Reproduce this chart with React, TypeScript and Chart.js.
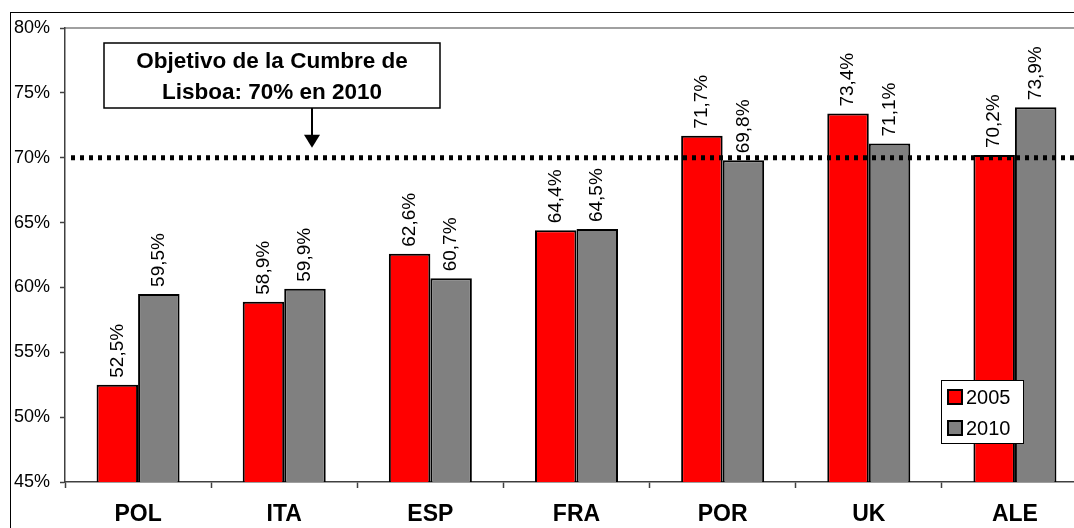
import React, { useEffect, useRef } from "react";
import { Chart, registerables } from "chart.js";

Chart.register(...registerables);

const categories = ["POL", "ITA", "ESP", "FRA", "POR", "UK", "ALE"];
const series2005 = [52.5, 58.9, 62.6, 64.4, 71.7, 73.4, 70.2];
const series2010 = [59.5, 59.9, 60.7, 64.5, 69.8, 71.1, 73.9];
const seriesLabels = ["2005", "2010"];
const yMin = 45;
const yMax = 80;
const yStep = 5;
const targetValue = 70;
const annotationLines = ["Objetivo de la Cumbre de", "Lisboa: 70% en 2010"];

const FONT = '"Liberation Sans", Arial, Helvetica, sans-serif';

const fmt = (v: number) => v.toFixed(1).replace(".", ",") + "%";

const decorPlugin = {
  id: "decor",
  beforeDraw(chart: any) {
    const ctx = chart.ctx;
    ctx.save();
    ctx.fillStyle = "#ffffff";
    ctx.fillRect(0, 0, chart.width, chart.height);
    ctx.strokeStyle = "#000000";
    ctx.lineWidth = 1;
    ctx.strokeRect(10.5, 12.5, chart.width + 50, chart.height + 50);
    const a = chart.chartArea;
    ctx.strokeStyle = "#808080";
    ctx.lineWidth = 1.5;
    ctx.beginPath();
    ctx.moveTo(a.left, a.top);
    ctx.lineTo(a.right, a.top);
    ctx.stroke();
    ctx.restore();
  },
  afterDatasetsDraw(chart: any) {
    const ctx = chart.ctx;
    const a = chart.chartArea;
    const yScale = chart.scales.y;
    const ty = yScale.getPixelForValue(targetValue);
    ctx.save();
    ctx.strokeStyle = "#000000";
    ctx.lineWidth = 5;
    ctx.setLineDash([4, 5]);
    ctx.beginPath();
    ctx.moveTo(a.left + 6, ty);
    ctx.lineTo(a.right, ty);
    ctx.stroke();
    ctx.setLineDash([]);
    ctx.restore();

    ctx.save();
    ctx.fillStyle = "#000000";
    ctx.font = `19px ${FONT}`;
    chart.data.datasets.forEach((ds: any, di: number) => {
      const meta = chart.getDatasetMeta(di);
      meta.data.forEach((el: any, i: number) => {
        ctx.save();
        ctx.translate(el.x, el.y - 7);
        ctx.rotate(-Math.PI / 2);
        ctx.textAlign = "left";
        ctx.textBaseline = "middle";
        ctx.fillText(fmt(ds.data[i]), 0, 0);
        ctx.restore();
      });
    });
    ctx.restore();
  },
  afterDraw(chart: any) {
    const ctx = chart.ctx;
    const yScale = chart.scales.y;
    const ty = yScale.getPixelForValue(targetValue);
    ctx.save();
    const bx = 104, by = 43, bw = 336, bh = 65;
    ctx.fillStyle = "#ffffff";
    ctx.fillRect(bx, by, bw, bh);
    ctx.strokeStyle = "#000000";
    ctx.lineWidth = 1.5;
    ctx.strokeRect(bx, by, bw, bh);
    ctx.fillStyle = "#000000";
    ctx.font = `bold 22.5px ${FONT}`;
    ctx.textAlign = "center";
    ctx.textBaseline = "middle";
    ctx.fillText(annotationLines[0], bx + bw / 2, 62);
    ctx.fillText(annotationLines[1], bx + bw / 2, 93);
    const ax = 312;
    ctx.lineWidth = 2;
    ctx.beginPath();
    ctx.moveTo(ax, by + bh);
    ctx.lineTo(ax, ty - 22);
    ctx.stroke();
    ctx.beginPath();
    ctx.moveTo(ax - 8, ty - 23);
    ctx.lineTo(ax + 8, ty - 23);
    ctx.lineTo(ax, ty - 10);
    ctx.closePath();
    ctx.fill();

    const lx = 941, ly = 380, lw = 82, lh = 63;
    ctx.fillStyle = "#ffffff";
    ctx.fillRect(lx, ly, lw, lh);
    ctx.strokeStyle = "#000000";
    ctx.lineWidth = 1;
    ctx.strokeRect(lx + 0.5, ly + 0.5, lw, lh);
    ctx.font = `20px ${FONT}`;
    ctx.textAlign = "left";
    ctx.textBaseline = "middle";
    chart.data.datasets.forEach((ds: any, i: number) => {
      const cy = 397 + i * 31;
      ctx.fillStyle = ds.backgroundColor;
      ctx.fillRect(948, cy - 7, 14, 14);
      ctx.strokeStyle = "#000000";
      ctx.lineWidth = 2;
      ctx.strokeRect(948, cy - 7, 14, 14);
      ctx.fillStyle = "#000000";
      ctx.fillText(ds.label, 966, cy + 1);
    });
    ctx.restore();
  },
};

export default function App() {
  const ref = useRef<HTMLCanvasElement | null>(null);
  useEffect(() => {
    if (!ref.current) return;
    const chart = new Chart(ref.current, {
      type: "bar",
      data: {
        labels: categories,
        datasets: [
          {
            label: seriesLabels[0],
            data: series2005,
            backgroundColor: "#ff0000",
            borderColor: "#000000",
            borderWidth: 2,
            barPercentage: 1,
            categoryPercentage: 0.568,
          },
          {
            label: seriesLabels[1],
            data: series2010,
            backgroundColor: "#808080",
            borderColor: "#000000",
            borderWidth: 2,
            barPercentage: 1,
            categoryPercentage: 0.568,
          },
        ],
      },
      options: {
        responsive: false,
        animation: false,
        devicePixelRatio: 1,
        layout: { padding: { top: 28, right: 12, left: 0, bottom: 0 } },
        plugins: {
          legend: { display: false },
          tooltip: { enabled: false },
          title: { display: false },
        },
        scales: {
          x: {
            grid: {
              display: true,
              offset: true,
              drawOnChartArea: false,
              drawTicks: true,
              tickLength: 6,
              tickColor: "#404040",
              tickWidth: 1.5,
            },
            border: { display: true, color: "#404040", width: 1.5 },
            ticks: {
              color: "#000000",
              font: { family: FONT, size: 23, weight: "bold" },
              padding: 13,
              maxRotation: 0,
            },
            afterFit(scale: any) {
              scale.height = 46;
            },
          },
          y: {
            min: yMin,
            max: yMax,
            grid: {
              display: true,
              drawOnChartArea: false,
              drawTicks: true,
              tickLength: 5,
              tickColor: "#404040",
              tickWidth: 1.5,
            },
            border: { display: true, color: "#404040", width: 1.5 },
            ticks: {
              stepSize: yStep,
              color: "#000000",
              font: { family: FONT, size: 18 },
              padding: 10,
              callback: (v: any) => v + "%",
            },
            afterFit(scale: any) {
              scale.width = 65;
            },
          },
        },
      },
      plugins: [decorPlugin],
    });
    return () => chart.destroy();
  }, []);

  return (
    <div
      style={{
        position: "fixed",
        left: 0,
        top: 0,
        width: 1074,
        height: 528,
        overflow: "hidden",
        background: "#fff",
      }}
    >
      <canvas ref={ref} width={1100} height={528} style={{ display: "block" }} />
    </div>
  );
}
